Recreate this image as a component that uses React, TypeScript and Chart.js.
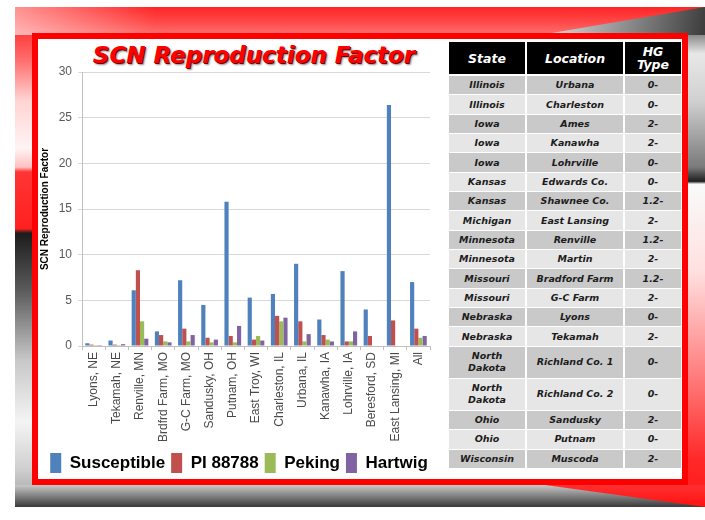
import React, { useEffect, useRef } from "react";
import { Chart, registerables } from "chart.js";

Chart.register(...registerables);

const categories = [
  "Lyons, NE",
  "Tekamah, NE",
  "Renville, MN",
  "Brdfrd Farm, MO",
  "G-C Farm, MO",
  "Sandusky, OH",
  "Putnam, OH",
  "East Troy, WI",
  "Charleston, IL",
  "Urbana, IL",
  "Kanawha, IA",
  "Lohrville, IA",
  "Beresford, SD",
  "East Lansing, MI",
  "All",
];
const susceptible = [0.3, 0.6, 6.1, 1.6, 7.2, 4.5, 15.8, 5.3, 5.7, 9.0, 2.9, 8.2, 4.0, 26.4, 7.0];
const pi88788 = [0.15, 0.15, 8.3, 1.2, 1.9, 0.9, 1.1, 0.7, 3.3, 2.7, 1.2, 0.5, 1.1, 2.8, 1.9];
const peking = [0.1, 0.1, 2.7, 0.5, 0.5, 0.4, 0.4, 1.1, 2.7, 0.5, 0.7, 0.5, 0, 0, 0.9];
const hartwig = [0.1, 0.2, 0.8, 0.4, 1.2, 0.7, 2.2, 0.6, 3.1, 1.3, 0.5, 1.6, 0, 0, 1.1];
const seriesNames = ["Susceptible", "PI 88788", "Peking", "Hartwig"];
const yTicks = [0, 5, 10, 15, 20, 25, 30];
const chartTitle = "SCN Reproduction Factor";
const yAxisTitle = "SCN Reproduction Factor";

const tableHeaders = ["State", "Location", "HG\nType"];
const tableStates = [
  "Illinois", "Illinois", "Iowa", "Iowa", "Iowa", "Kansas", "Kansas", "Michigan",
  "Minnesota", "Minnesota", "Missouri", "Missouri", "Nebraska", "Nebraska",
  "North\nDakota", "North\nDakota", "Ohio", "Ohio", "Wisconsin",
];
const tableLocations = [
  "Urbana", "Charleston", "Ames", "Kanawha", "Lohrville", "Edwards Co.", "Shawnee Co.",
  "East Lansing", "Renville", "Martin", "Bradford Farm", "G-C Farm", "Lyons", "Tekamah",
  "Richland Co. 1", "Richland Co. 2", "Sandusky", "Putnam", "Muscoda",
];
const tableHG = [
  "0-", "0-", "2-", "2-", "0-", "0-", "1.2-", "2-", "1.2-", "2-", "1.2-", "2-", "0-", "2-",
  "0-", "0-", "2-", "0-", "2-",
];

const COLORS = ["#4f81bd", "#c0504d", "#9bbb59", "#8064a2"];
const FONT = "'Liberation Sans', Arial, sans-serif";

const legendShift = {
  id: "legendShift",
  afterLayout(chart: any) {
    const l = chart.legend;
    if (l) {
      l.left += 5;
      l.right += 5;
    }
  },
};

function ChartCanvas() {
  const ref = useRef<HTMLCanvasElement | null>(null);
  useEffect(() => {
    if (!ref.current) return;
    const values = [susceptible, pi88788, peking, hartwig];
    const chart = new Chart(ref.current, {
      type: "bar",
      data: {
        labels: categories,
        datasets: values.map((v, i) => ({
          label: seriesNames[i],
          data: v,
          backgroundColor: COLORS[i],
          borderWidth: 0,
          categoryPercentage: 0.72,
          barPercentage: 1.0,
        })),
      },
      plugins: [legendShift],
      options: {
        animation: false,
        responsive: false,
        maintainAspectRatio: false,
        layout: { padding: { top: 32, right: 18, bottom: 2, left: 0 } },
        plugins: {
          tooltip: { enabled: false },
          title: { display: false },
          legend: {
            position: "bottom",
            labels: {
              boxWidth: 11,
              boxHeight: 20,
              padding: 6,
              color: "#000",
              font: { family: FONT, size: 17, weight: "bold" },
            },
          },
        },
        scales: {
          x: {
            grid: {
              display: true,
              drawOnChartArea: false,
              drawTicks: true,
              tickLength: 4,
              color: "#bfbfbf",
              offset: true,
            },
            border: { display: true, color: "#bfbfbf" },
            ticks: {
              autoSkip: false,
              minRotation: 90,
              maxRotation: 90,
              padding: 2,
              color: "#4a4a4a",
              font: { family: FONT, size: 12 },
            },
            afterFit: (s: any) => {
              s.height = 101;
            },
          },
          y: {
            min: 0,
            max: 30,
            afterBuildTicks: (s: any) => {
              s.ticks = yTicks.map((v) => ({ value: v }));
            },
            ticks: {
              padding: 6,
              color: "#595959",
              font: { family: FONT, size: 12 },
            },
            grid: { color: "#d9d9d9", tickLength: 4, drawTicks: true },
            border: { display: true, color: "#bfbfbf" },
            title: {
              display: true,
              text: yAxisTitle,
              color: "#000",
              font: { family: FONT, size: 10, weight: "bold" },
              padding: { top: 1, bottom: 8 },
            },
            afterFit: (s: any) => {
              s.width = 44;
            },
          },
        },
      },
    });
    return () => chart.destroy();
  }, []);
  return (
    <canvas
      ref={ref}
      width={410}
      height={445}
      style={{ position: "absolute", left: 38, top: 40, width: 410, height: 445 }}
    />
  );
}

function InfoTable() {
  const colWidths = [78, 98, 56];
  const cellFont = "italic bold 9.5px/12px 'DejaVu Sans', sans-serif";
  return (
    <div style={{ position: "absolute", left: 449, top: 42, width: 232, background: "#fff" }}>
      <div style={{ display: "flex", height: 34 }}>
        {tableHeaders.map((h, i) => (
          <div
            key={i}
            style={{
              width: colWidths[i],
              boxSizing: "border-box",
              borderRight: i < 2 ? "2px solid #fff" : "none",
              borderBottom: "2px solid #fff",
              background: "#000",
              color: "#fff",
              display: "flex",
              alignItems: "center",
              justifyContent: "center",
              textAlign: "center",
              whiteSpace: "pre-line",
              font: "italic bold 12.5px/13px 'DejaVu Sans', sans-serif",
            }}
          >
            {h}
          </div>
        ))}
      </div>
      {tableStates.map((s, r) => {
        const dbl = s.includes("\n");
        const h = dbl ? 32 : 19.35;
        const bg = r % 2 === 0 ? "#c9c9c9" : "#e6e6e6";
        const cells = [s, tableLocations[r], tableHG[r]];
        return (
          <div key={r} style={{ display: "flex", height: h }}>
            {cells.map((c, i) => (
              <div
                key={i}
                style={{
                  width: colWidths[i],
                  boxSizing: "border-box",
                  borderRight: i < 2 ? "2px solid #fff" : "none",
                  borderBottom: "1px solid #fff",
                  background: bg,
                  color: "#1c1c1c",
                  display: "flex",
                  alignItems: "center",
                  justifyContent: "center",
                  textAlign: "center",
                  whiteSpace: "pre-line",
                  font: cellFont,
                }}
              >
                {c}
              </div>
            ))}
          </div>
        );
      })}
    </div>
  );
}

export default function App() {
  const abs = (o: React.CSSProperties): React.CSSProperties => ({ position: "absolute", ...o });
  return (
    <div
      style={{
        position: "fixed",
        left: 0,
        top: 0,
        width: 705,
        height: 520,
        background: "#fff",
        overflow: "hidden",
      }}
    >
      {/* slide background */}
      <div style={abs({ left: 15, top: 7, width: 690, height: 500, background: "#fff" })} />
      <div
        style={abs({
          left: 15,
          top: 7,
          width: 690,
          height: 28,
          background: "linear-gradient(180deg,#ff2424 0%,#ff4646 50%,#ff7070 100%)",
        })}
      />
      <div
        style={abs({
          left: 15,
          top: 7,
          width: 140,
          height: 28,
          background: "linear-gradient(90deg, rgba(255,255,255,0.5), rgba(255,255,255,0))",
        })}
      />
      <div
        style={abs({
          left: 540,
          top: 7,
          width: 165,
          height: 28,
          background: "linear-gradient(100deg,#e6e6e6 0%,#9a9a9a 45%,#3c3c3c 100%)",
          clipPath: "polygon(0% 100%, 100% 0%, 100% 100%)",
        })}
      />
      <div
        style={abs({
          left: 15,
          top: 35,
          width: 18,
          height: 472,
          background:
            "linear-gradient(180deg,#ff4040 0%,#ff6a6a 5%,#ffd4d4 14%,#fff4f4 24%,#ffc0c0 28%,#ff3535 29%,#ff2020 41%,#1c1c1c 42%,#5a5a5a 54%,#c8c8c8 69%,#f4f4f4 82%,#cfcfcf 92%,#9a9a9a 100%)",
        })}
      />
      <div
        style={abs({
          left: 688,
          top: 35,
          width: 17,
          height: 472,
          background:
            "linear-gradient(180deg,#8a8a8a 0%,#e8e8e8 4%,#d0d0d0 14%,#7a7a7a 28%,#1e1e1e 31%,#fafafa 31.6%,#ffe0e0 50%,#ff7070 75%,#ff2828 90%,#ff1818 100%)",
        })}
      />
      <div
        style={abs({
          left: 15,
          top: 485,
          width: 690,
          height: 22,
          background: "linear-gradient(180deg,#c8c8c8,#3a3a3a)",
        })}
      />
      <div
        style={abs({
          left: 545,
          top: 485,
          width: 160,
          height: 22,
          clipPath: "polygon(0 0, 100% 0, 100% 100%)",
          background: "linear-gradient(180deg,#ff3030,#ff1010)",
        })}
      />
      {/* red frame */}
      <div
        style={abs({
          left: 32,
          top: 33,
          width: 656,
          height: 452,
          boxSizing: "border-box",
          border: "6px solid #ff0000",
          background: "#fff",
        })}
      />
      {/* chart title */}
      <div
        style={abs({
          left: 54,
          top: 44,
          width: 400,
          textAlign: "center",
          fontFamily: "'DejaVu Sans', sans-serif",
          fontWeight: "bold",
          fontStyle: "italic",
          fontSize: 23,
          lineHeight: "22px",
          color: "#ff0000",
          textShadow: "1px 1px 0 #6b0000, 2px 2px 2px rgba(0,0,0,0.45)",
          whiteSpace: "nowrap",
        })}
      >
        {chartTitle}
      </div>
      <ChartCanvas />
      <InfoTable />
    </div>
  );
}
